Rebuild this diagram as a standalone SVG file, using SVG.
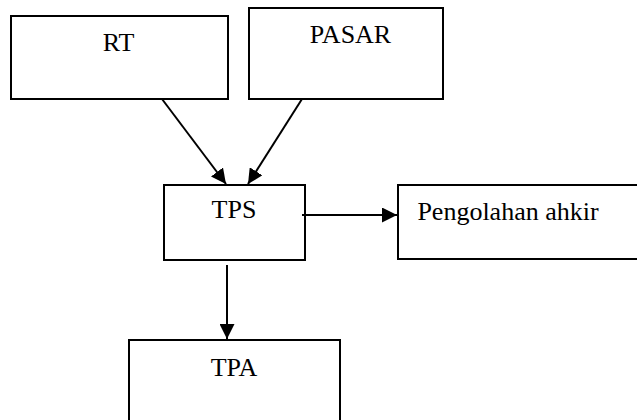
<svg xmlns="http://www.w3.org/2000/svg" width="637" height="420" viewBox="0 0 637 420">
<style>
.box{fill:#fff;stroke:#000;stroke-width:2}
.lbl{font-family:"Liberation Serif","Times New Roman",serif;font-size:26px;fill:#000;text-anchor:middle}
.edge{stroke:#000;stroke-width:2;fill:none;marker-end:url(#ah)}
</style>
<defs>
<marker id="ah" markerUnits="userSpaceOnUse" markerWidth="15" markerHeight="15" refX="15" refY="7.5" orient="auto">
<path d="M0,0 L15,7.5 L0,15 z" fill="#000"/>
</marker>
</defs>
<rect width="637" height="420" fill="#fff"/>
<g id="rt"><rect class="box" x="11" y="16" width="217" height="83"/><text class="lbl" x="118.5" y="51">RT</text></g>
<g id="pasar"><rect class="box" x="249" y="8" width="194" height="91"/><text class="lbl" x="350.5" y="43">PASAR</text></g>
<g id="tps"><rect class="box" x="164" y="185" width="141" height="75"/><text class="lbl" x="234" y="218">TPS</text></g>
<g id="pengolahan"><rect class="box" x="398" y="185" width="245" height="74"/><text class="lbl" x="508" y="220">Pengolahan ahkir</text></g>
<g id="tpa"><rect class="box" x="129" y="340" width="211" height="90"/><text class="lbl" x="234" y="376">TPA</text></g>
<g id="connectors">
<line class="edge" x1="162" y1="99" x2="226" y2="184"/>
<line class="edge" x1="302" y1="99" x2="248" y2="184"/>
<line class="edge" x1="302" y1="215" x2="397" y2="215"/>
<line class="edge" x1="227" y1="265" x2="227" y2="339"/>
</g>
</svg>
